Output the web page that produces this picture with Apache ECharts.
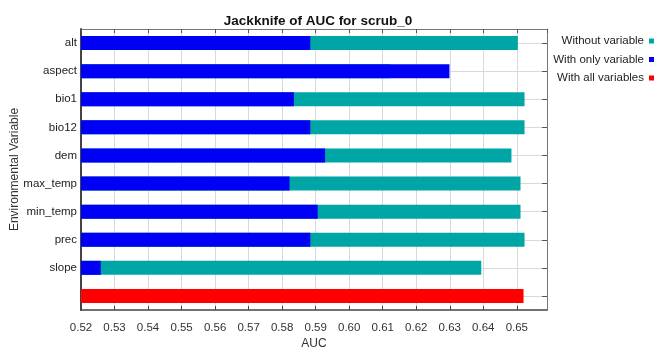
<!DOCTYPE html>
<html>
<head>
<meta charset="utf-8">
<script src="https://cdn.jsdelivr.net/npm/echarts@6/dist/echarts.min.js"></script>
<style>
  html, body { margin: 0; padding: 0; background: #fff; }
  #chart { width: 656px; height: 350px; }
</style>
</head>
<body>
<div id="chart"></div>
<script>
// Jackknife test of variable importance (AUC)
var variables = ['alt', 'aspect', 'bio1', 'bio12', 'dem', 'max_temp', 'min_temp', 'prec', 'slope', ''];
var withoutVariable = [0.6503, 0.6123, 0.6523, 0.6523, 0.6484, 0.6511, 0.6511, 0.6523, 0.6394, null];
var withOnlyVariable = [0.5884, 0.6299, 0.5835, 0.5884, 0.5928, 0.5822, 0.5906, 0.5884, 0.5259, null];
var withAllVariables = [null, null, null, null, null, null, null, null, null, 0.6520];

var aucMin = 0.52;
var aucMax = 0.659;
var aucStep = 0.01;

// Right-hand frame axis: band edges and band centres alternate,
// so odd positions mark the centre of each variable's row.
var rowMarks = [];
for (var i = 0; i <= variables.length * 2; i++) rowMarks.push(String(i));
function isRowCentre(index) { return index % 2 === 1; }

var font = '"Liberation Sans", Arial, sans-serif';
var chart = echarts.init(document.getElementById('chart'), null, { renderer: 'canvas' });

chart.setOption({
  animation: false,
  backgroundColor: '#ffffff',
  title: {
    text: 'Jackknife of AUC for scrub_0',
    left: 313,
    textAlign: 'center',
    top: 9,
    textStyle: { fontFamily: font, fontSize: 13.5, fontWeight: 'bold', color: '#111' }
  },
  legend: {
    orient: 'vertical',
    right: 0,
    top: 30,
    align: 'right',
    padding: [5, 2, 5, 5],
    itemWidth: 5,
    itemHeight: 5,
    itemGap: 6.5,
    icon: 'rect',
    textStyle: { fontFamily: font, fontSize: 11.5, color: '#222' },
    data: ['Without variable', 'With only variable', 'With all variables']
  },
  grid: { left: 81, right: 109, top: 29, bottom: 40, containLabel: false, outerBoundsMode: 'none' },
  xAxis: [
    {
      type: 'value',
      position: 'bottom',
      min: aucMin,
      max: aucMax,
      interval: aucStep,
      name: 'AUC',
      nameLocation: 'middle',
      nameGap: 28,
      nameMoveOverlap: false,
      nameTextStyle: { fontFamily: font, fontSize: 12, color: '#333' },
      axisLine: { show: true, lineStyle: { color: '#444', width: 1.5 } },
      axisTick: { show: true, inside: true, length: 4, lineStyle: { color: '#444' } },
      axisLabel: {
        fontFamily: font, fontSize: 11.5, color: '#333', margin: 12,
        showMaxLabel: false,
        formatter: function (v) { return v.toFixed(2); }
      },
      splitLine: { show: true, lineStyle: { color: '#d9d9d9', width: 1 } }
    },
    {
      type: 'value',
      position: 'top',
      min: aucMin,
      max: aucMax,
      interval: aucStep,
      axisLine: { show: true, lineStyle: { color: '#777', width: 1 } },
      axisTick: { show: true, inside: true, length: 4, lineStyle: { color: '#555' } },
      axisLabel: { show: false },
      splitLine: { show: false }
    }
  ],
  yAxis: [
    {
      type: 'category',
      position: 'left',
      inverse: true,
      data: variables,
      name: 'Environmental Variable',
      nameLocation: 'middle',
      nameRotate: 90,
      nameGap: 60,
      nameMoveOverlap: false,
      nameTextStyle: { fontFamily: font, fontSize: 12, color: '#333' },
      axisLine: { show: true, lineStyle: { color: '#444', width: 2 } },
      axisTick: { show: false },
      axisLabel: { fontFamily: font, fontSize: 11.5, color: '#222', margin: 4 },
      splitLine: { show: false }
    },
    {
      type: 'category',
      position: 'right',
      inverse: true,
      boundaryGap: false,
      data: rowMarks,
      axisLine: { show: true, lineStyle: { color: '#777', width: 1 } },
      axisTick: { show: true, inside: true, length: 5, interval: isRowCentre, lineStyle: { color: '#555' } },
      axisLabel: { show: false },
      splitLine: { show: true, interval: isRowCentre, lineStyle: { color: '#d9d9d9', width: 1 } }
    }
  ],
  series: [
    {
      name: 'Without variable',
      type: 'bar',
      xAxisIndex: 0,
      yAxisIndex: 0,
      barWidth: 14,
      barGap: '-100%',
      itemStyle: { color: '#00a6a6' },
      data: withoutVariable
    },
    {
      name: 'With only variable',
      type: 'bar',
      xAxisIndex: 0,
      yAxisIndex: 0,
      barWidth: 14,
      barGap: '-100%',
      itemStyle: { color: '#0000f5' },
      data: withOnlyVariable
    },
    {
      name: 'With all variables',
      type: 'bar',
      xAxisIndex: 0,
      yAxisIndex: 0,
      barWidth: 14,
      barGap: '-100%',
      itemStyle: { color: '#ff0000' },
      data: withAllVariables
    }
  ]
});
</script>
</body>
</html>
